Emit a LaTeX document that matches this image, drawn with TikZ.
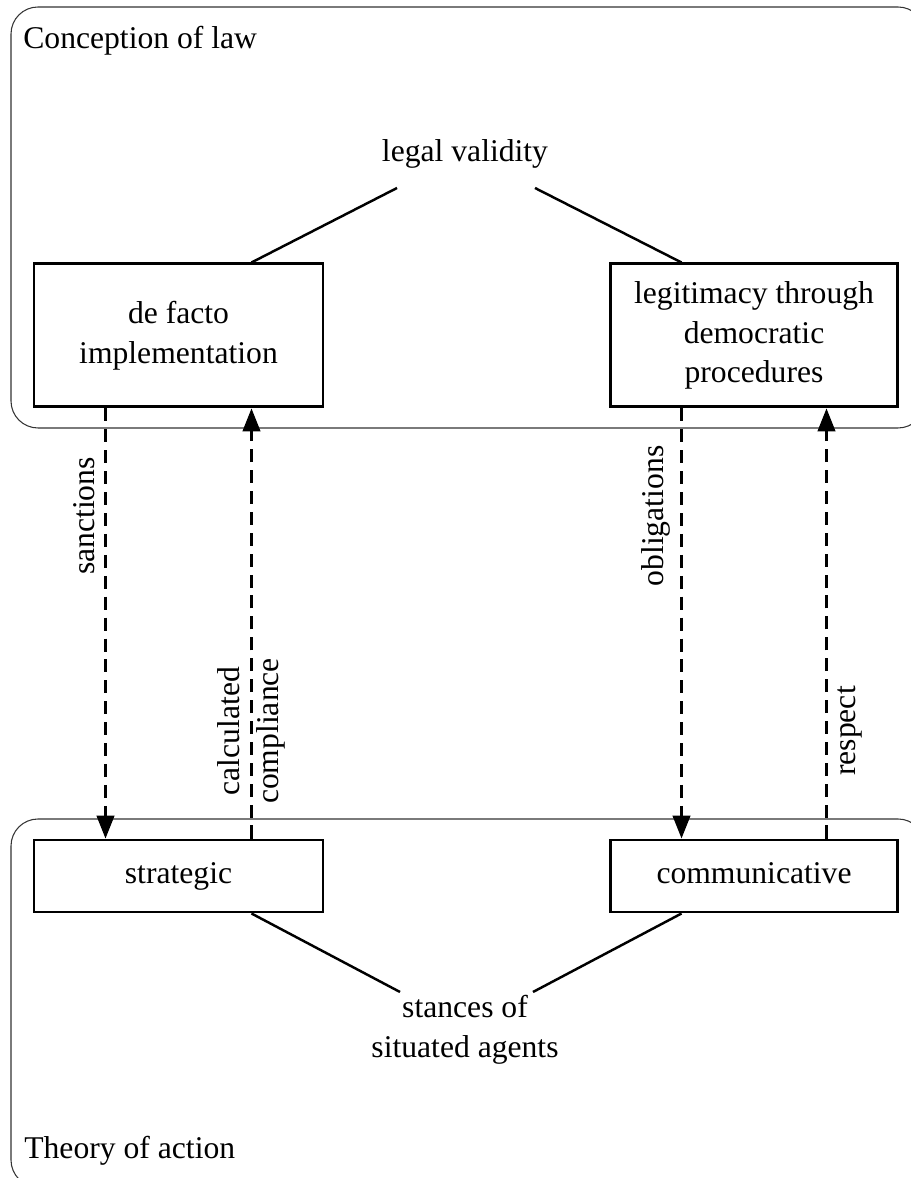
\documentclass[tikz,border=0pt]{standalone}
\usepackage{fontspec}
\setmainfont{Liberation Serif}
\usetikzlibrary{arrows.meta,calc}

\begin{document}
\begin{tikzpicture}[font=\fontsize{18}{22.5}\selectfont,
	panel/.style={draw=black!80, line width=0.6pt, rounded corners=0.54cm},
	blk/.style={draw, line width=1.7pt, align=center, inner sep=0pt},
	conn/.style={line width=1.4pt},
	dasharrow/.style={line width=1.3pt, dash pattern=on 7.4pt off 4.5pt, -{Triangle[length=13pt,width=10pt]}},
	lbl/.style={rotate=90, inner sep=0.2cm}]
	\useasboundingbox (0,0) rectangle (18.22,23.56);
	\clip (0,0) rectangle (18.22,23.56);

	\draw [panel] (0.22,15.0) rectangle (18.5,23.42);
	\draw [panel] (0.22,-0.18) rectangle (18.5,7.18);

	\node at (0.46,22.58) [anchor=base west, inner sep=0pt] (law) {Conception of law};
	\node at (0.48,0.38) [anchor=base west, inner sep=0pt] (action) {Theory of action};
	\node at (9.3,20.32) [anchor=base, inner sep=0pt] (validity) {legal validity};
	\node at (9.3,2.96) [align=center, inner sep=0pt] (stances) {stances of\\situated agents};

	\node at (3.57,16.85) [blk, minimum width=5.78cm, minimum height=2.86cm] (defacto) {de facto\\implementation};
	\node at (15.08,16.85) [blk, minimum width=5.74cm, minimum height=2.86cm] (legit) {legitimacy through\\democratic\\procedures};
	\node at (3.57,6.04) [blk, minimum width=5.78cm, minimum height=1.44cm, text height=12.3pt, text depth=3.9pt] (strategic) {strategic};
	\node at (15.08,6.04) [blk, minimum width=5.74cm, minimum height=1.44cm, text height=12.3pt, text depth=3.9pt] (communic) {communicative};

	\coordinate (valL) at (7.94,19.8);
	\coordinate (valR) at (10.7,19.8);
	\coordinate (staL) at (8.0,3.72);
	\coordinate (staR) at (10.66,3.72);

	\draw [conn] (valL) -- ($(defacto.north west)!.75!(defacto.north east)$);
	\draw [conn] (valR) -- ($(legit.north west)!.25!(legit.north east)$);
	\draw [conn] ($(strategic.south west)!.75!(strategic.south east)$) -- (staL);
	\draw [conn] ($(communic.south west)!.25!(communic.south east)$) -- (staR);

	\draw [dasharrow] ($(defacto.south west)!.25!(defacto.south east)$) -- ($(strategic.north west)!.25!(strategic.north east)$) node[pos=.25, lbl, anchor=south] {sanctions};
	\draw [dasharrow] ($(strategic.north west)!.75!(strategic.north east)$) -- ($(defacto.south west)!.75!(defacto.south east)$) node[pos=.25, lbl, inner sep=0pt, align=center] {calculated\\compliance};
	\draw [dasharrow] ($(legit.south west)!.25!(legit.south east)$) -- ($(communic.north west)!.25!(communic.north east)$) node[pos=.25, lbl, anchor=south] {obligations};
	\draw [dasharrow] ($(communic.north west)!.75!(communic.north east)$) -- ($(legit.south west)!.75!(legit.south east)$) node[pos=.25, lbl, anchor=north] {respect};
\end{tikzpicture}
\end{document}
